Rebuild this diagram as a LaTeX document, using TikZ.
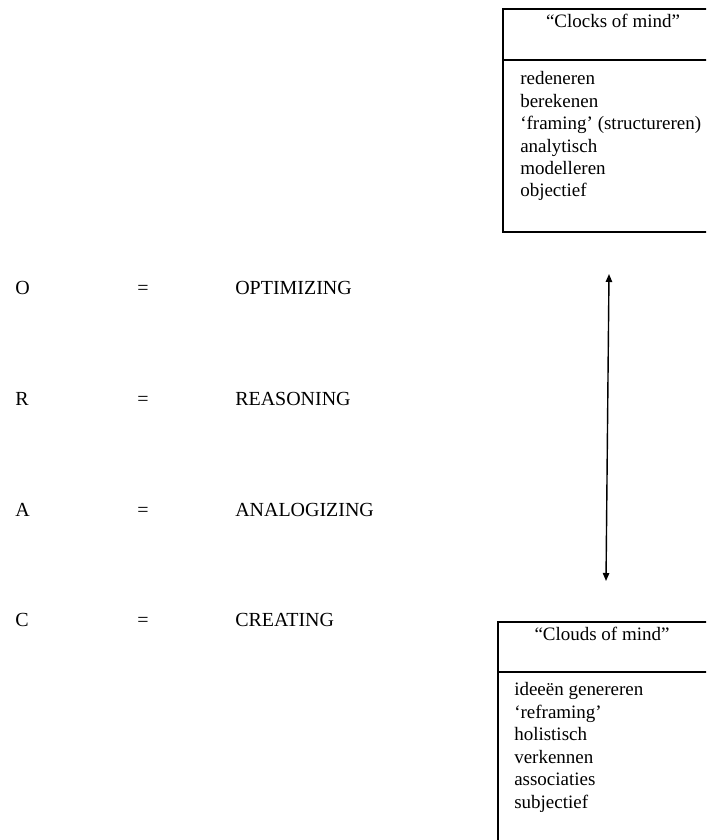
\documentclass[tikz,border=0pt]{standalone}
\usepackage{fontspec}
\setmainfont{Liberation Serif}
\usepackage{tikz}
\usetikzlibrary{arrows.meta}

\newcommand{\txt}{\fontsize{13.5}{16}\selectfont}
\newcommand{\caps}{\fontsize{14.2}{17}\selectfont}

\begin{document}
\begin{tikzpicture}[x=0.025cm, y=0.025cm]
  % frame in pixels of the scan (706 x 840), y upwards
  \useasboundingbox (0,0) rectangle (706,840);
  \clip (0,0) rectangle (706,840);
  % left column: letter = word, rows 110.4 apart
  \foreach \l/\w [count=\i] in {O/OPTIMIZING,R/REASONING,A/ANALOGIZING,C/CREATING} {
    \node[anchor=base west, font=\caps, inner sep=0] (letter\i) at (15,{545-110.6*(\i-1)}) {\l};
    \node[anchor=base, font=\caps, inner sep=0] (eq\i) at (143,{545-110.6*(\i-1)}) {=};
    \node[anchor=base west, font=\caps, inner sep=0] (word\i) at (235,{545-110.6*(\i-1)}) {\w};
  }
  % top box "Clocks of mind" (runs off the right edge)
  \draw[line width=1pt] (503,608) rectangle (723,831);
  \draw[line width=1pt] (503,780) -- (723,780);
  \node[anchor=base, font=\txt, inner sep=0] (clockstitle) at (613,812) {“Clocks of mind”};
  \foreach \t [count=\i] in {redeneren,berekenen,‘framing’ (structureren),analytisch,modelleren,objectief} {
    \node[anchor=base west, font=\txt, inner sep=0] (clock\i) at (520,{755-22.4*(\i-1)}) {\t};
  }
  % bottom box "Clouds of mind" (runs off the right and lower edge)
  \draw[line width=1pt] (498,-10) rectangle (710,218);
  \draw[line width=1pt] (498,168) -- (710,168);
  \node[anchor=base, font=\txt, inner sep=0] (cloudstitle) at (602,199) {“Clouds of mind”};
  \foreach \t [count=\i] in {ideeën genereren,‘reframing’,holistisch,verkennen,associaties,subjectief} {
    \node[anchor=base west, font=\txt, inner sep=0] (cloud\i) at (514,{144-22.5*(\i-1)}) {\t};
  }
  % double arrow between the two
  \coordinate (arrtop) at (609,566);
  \coordinate (arrbot) at (606,259);
  \draw[line width=1pt, {Triangle[length=2mm,width=1.6mm]}-{Triangle[length=2mm,width=1.6mm]}] (arrtop) -- (arrbot);
\end{tikzpicture}
\end{document}
